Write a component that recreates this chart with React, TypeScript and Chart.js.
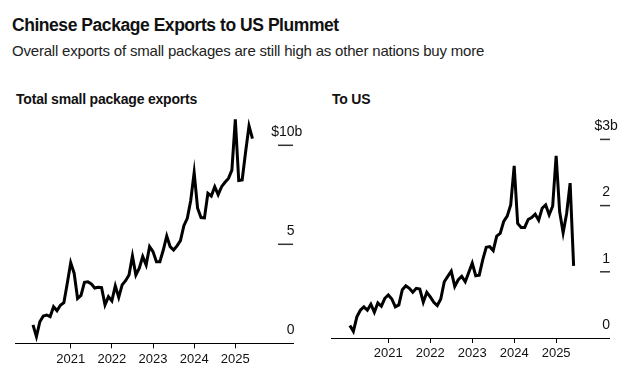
import React, { useEffect, useRef } from "react";
import { Chart, registerables } from "chart.js";

Chart.register(...registerables);

// Monthly categories, Jan 2020 .. May 2025 (plotted at month end)
const MONTHS: string[] = [];
for (let y = 2020; y <= 2025; y++) {
  for (let m = 1; m <= 12; m++) {
    if (y === 2025 && m > 5) break;
    MONTHS.push(`${y}-${String(m).padStart(2, "0")}`);
  }
}

// Total small package exports, $ billions
const totalExports = [
  0.93, 0.34, 1.09, 1.38, 1.43, 1.35, 1.85, 1.65, 1.92, 2.05, 3.03, 4.07,
  3.54, 2.26, 2.42, 3.08, 3.11, 3.0, 2.79, 2.83, 2.81, 1.94, 2.36, 2.14,
  2.9, 2.32, 2.95, 3.16, 3.45, 4.41, 3.45, 3.79, 4.38, 3.96, 4.88, 4.63,
  4.12, 4.12, 4.71, 5.42, 4.88, 4.71, 4.92, 5.19, 5.94, 6.31, 7.21, 8.62,
  6.82, 6.35, 6.33, 7.58, 7.44, 7.91, 7.51, 7.91, 8.13, 8.33, 8.75, 11.31,
  8.22, 8.25, 9.66, 10.98, 10.34,
];

// Small package exports to US, $ billions
const toUS = [
  0.19, 0.1, 0.32, 0.42, 0.47, 0.42, 0.51, 0.39, 0.53, 0.48, 0.6, 0.65,
  0.59, 0.47, 0.5, 0.73, 0.79, 0.75, 0.69, 0.75, 0.74, 0.54, 0.69, 0.62,
  0.54, 0.49, 0.59, 0.85, 0.93, 1.01, 0.78, 0.88, 0.93, 0.85, 0.99, 1.13,
  0.94, 0.95, 1.18, 1.37, 1.38, 1.32, 1.54, 1.58, 1.76, 1.84, 2.01, 2.6,
  1.73, 1.67, 1.67, 1.79, 1.82, 1.87, 1.78, 1.96, 2.01, 1.86, 1.99, 2.75,
  1.91, 1.59, 1.88, 2.34, 1.09,
];

const yearTicks = [2021, 2022, 2023, 2024, 2025];
const totalTicks = [0, 5, 10];
const usTicks = [0, 1, 2, 3];

const FONT = "'Liberation Sans', Arial, Helvetica, sans-serif";

function monthEnd(label: string): number {
  const [y, m] = label.split("-").map(Number);
  return y + m / 12;
}

const yLabelPlugin = {
  id: "yLabels",
  afterDraw(chart: any, _args: any, opts: any) {
    const { ctx, chartArea, scales } = chart;
    const ys = scales.y;
    const ticks: number[] = opts.ticks || [];
    const right = chartArea.right + (opts.dashOffset || 0);
    ctx.save();
    ticks.forEach((v, i) => {
      const py = ys.getPixelForValue(v);
      if (v !== 0) {
        ctx.strokeStyle = "#333";
        ctx.lineWidth = 1.5;
        ctx.beginPath();
        ctx.moveTo(right - opts.dashLen, py);
        ctx.lineTo(right, py);
        ctx.stroke();
      }
      ctx.fillStyle = "#111";
      ctx.font = `14px ${FONT}`;
      ctx.textBaseline = "middle";
      const num = String(v);
      const ly = py - 13;
      const nx = right + (opts.numOffset || 0);
      ctx.textAlign = "right";
      ctx.fillText(num, nx, ly);
      if (i === ticks.length - 1) {
        const w = ctx.measureText(num).width;
        ctx.fillText("$", nx - w, ly);
        ctx.textAlign = "left";
        ctx.fillText("b", nx, ly);
      }
    });
    ctx.restore();
  },
};

type PanelProps = {
  values: number[];
  yMax: number;
  xMin: number;
  xMax: number;
  ticks: number[];
  padding: { left: number; right: number; top: number; bottom: number };
  dashLen: number;
  dashOffset: number;
  numOffset: number;
  width: number;
  height: number;
  style: React.CSSProperties;
};

function Panel(props: PanelProps) {
  const ref = useRef<HTMLCanvasElement | null>(null);
  useEffect(() => {
    if (!ref.current) return;
    const chart = new Chart(ref.current, {
      type: "line",
      data: {
        datasets: [
          {
            data: MONTHS.map((m, i) => ({ x: monthEnd(m), y: props.values[i] })),
            borderColor: "#000",
            borderWidth: 3,
            pointRadius: 0,
            tension: 0,
            borderJoinStyle: "miter",
            fill: false,
          },
        ],
      },
      options: {
        responsive: false,
        animation: false,
        layout: { padding: props.padding },
        plugins: {
          legend: { display: false },
          tooltip: { enabled: false },
          yLabels: {
            ticks: props.ticks,
            dashLen: props.dashLen,
            dashOffset: props.dashOffset,
            numOffset: props.numOffset,
          },
        } as any,
        scales: {
          x: {
            type: "linear",
            min: props.xMin,
            max: props.xMax,
            afterBuildTicks: (axis: any) => {
              axis.ticks = yearTicks.map((v) => ({ value: v }));
            },
            afterFit: (scale: any) => {
              scale.height = 30;
            },
            grid: {
              display: true,
              drawOnChartArea: false,
              drawTicks: true,
              tickLength: 5,
              color: "#000",
              lineWidth: 1,
            },
            border: { display: true, color: "#000", width: 1 },
            ticks: {
              autoSkip: false,
              maxRotation: 0,
              padding: 3,
              color: "#111",
              font: { family: FONT, size: 13 },
              callback: (v: any) => String(v),
            },
          },
          y: {
            display: false,
            min: 0,
            max: props.yMax,
          },
        },
      },
      plugins: [yLabelPlugin],
    });
    return () => chart.destroy();
  }, []);
  return (
    <canvas
      ref={ref}
      width={props.width}
      height={props.height}
      style={{ position: "absolute", width: props.width, height: props.height, ...props.style }}
    />
  );
}

export default function App() {
  const text: React.CSSProperties = {
    position: "absolute",
    fontFamily: FONT,
    color: "#111",
    whiteSpace: "nowrap",
    margin: 0,
  };
  return (
    <div style={{ position: "absolute", left: 0, top: 0, width: 639, height: 378, background: "#fff", overflow: "hidden" }}>
      <div style={{ ...text, left: 12, top: 16.5, fontSize: 17.5, lineHeight: "17.5px", fontWeight: 700, letterSpacing: -0.45 }}>
        Chinese Package Exports to US Plummet
      </div>
      <div style={{ ...text, left: 12, top: 42.5, fontSize: 15, lineHeight: "15px", letterSpacing: -0.2, color: "#222" }}>
        Overall exports of small packages are still high as other nations buy more
      </div>
      <div style={{ ...text, left: 16, top: 92, fontSize: 14, lineHeight: "14px", fontWeight: 700, letterSpacing: -0.2 }}>
        Total small package exports
      </div>
      <div style={{ ...text, left: 332, top: 92, fontSize: 14, lineHeight: "14px", fontWeight: 700, letterSpacing: -0.2 }}>
        To US
      </div>
      <Panel
        values={totalExports}
        yMax={12}
        xMin={2019.646}
        xMax={2026.402}
        ticks={totalTicks}
        padding={{ left: 15, right: 27, top: 5.7, bottom: 4.7 }}
        dashLen={15}
        dashOffset={0}
        numOffset={1.5}
        width={320}
        height={278}
        style={{ left: 0, top: 100 }}
      />
      <Panel
        values={toUS}
        yMax={3.5}
        xMin={2019.65}
        xMax={2026.26}
        ticks={usTicks}
        padding={{ left: 11.7, right: 30, top: 6.3, bottom: 10 }}
        dashLen={10}
        dashOffset={1}
        numOffset={0}
        width={319}
        height={278}
        style={{ left: 320, top: 100 }}
      />
    </div>
  );
}
